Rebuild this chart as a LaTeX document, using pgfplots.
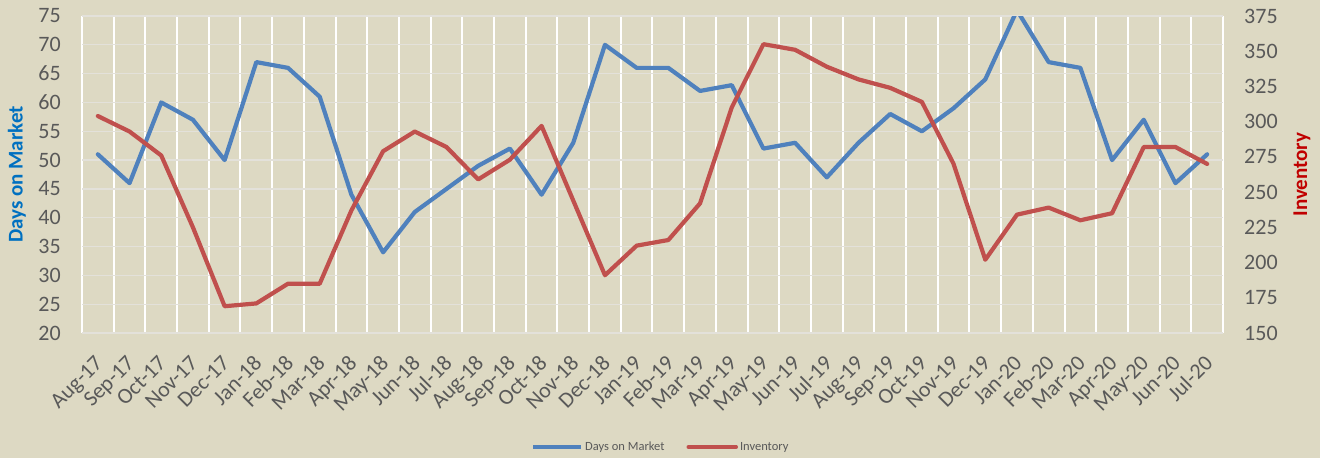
\documentclass[border=0pt]{standalone}
\usepackage{pgfplots}
\usepackage{pgfplotstable}
\pgfplotsset{compat=1.18}
\usepackage{fontspec}
\setmainfont{Carlito}
\definecolor{bg}{HTML}{DDD9C3}
\definecolor{blueline}{HTML}{4F81BD}
\definecolor{redline}{HTML}{C0504D}
\definecolor{ticktext}{HTML}{595959}
\definecolor{hgrid}{HTML}{E3E1DA}
\definecolor{labblue}{HTML}{0070C0}
\definecolor{labred}{HTML}{C00000}
\pgfplotstableread{
x dom inv
0 51 304
1 46 293
2 60 276
3 57 225
4 50 169
5 67 171
6 66 185
7 61 185
8 44 237
9 34 279
10 41 293
11 45 282
12 49 259
13 52 273
14 44 297
15 53 244
16 70 191
17 66 212
18 66 216
19 62 242
20 63 310
21 52 355
22 53 351
23 47 339
24 53 330
25 58 324
26 55 314
27 59 270
28 64 202
29 76 234
30 67 239
31 66 230
32 50 235
33 57 282
34 46 282
35 51 270
}\data
\begin{document}
\begin{tikzpicture}
\path[use as bounding box, fill=bg] (0,0) rectangle (1320pt,458pt);
\begin{axis}[
  /pgf/number format/assume math mode=true,
  at={(82pt,125pt)}, anchor=south west,
  scale only axis, width=1141pt, height=317pt,
  xmin=-0.5, xmax=35.5, ymin=20, ymax=75,
  axis y line*=left, axis x line*=bottom,
  axis line style={draw=none},
  major tick length=0pt, minor tick length=0pt,
  xtick={0,...,35},
  xticklabels={Aug-17,Sep-17,Oct-17,Nov-17,Dec-17,Jan-18,Feb-18,Mar-18,Apr-18,May-18,Jun-18,Jul-18,Aug-18,Sep-18,Oct-18,Nov-18,Dec-18,Jan-19,Feb-19,Mar-19,Apr-19,May-19,Jun-19,Jul-19,Aug-19,Sep-19,Oct-19,Nov-19,Dec-19,Jan-20,Feb-20,Mar-20,Apr-20,May-20,Jun-20,Jul-20},
  xticklabel style={xshift=-4pt, yshift=-21pt, rotate=45, anchor=north east, inner sep=0pt, font=\fontsize{22}{24}\selectfont, text=ticktext},
  minor xtick={-0.5,0.5,...,35.5},
  xminorgrids, minor grid style={white, line width=2pt},
  ytick={20,25,...,75},
  ymajorgrids, major grid style={hgrid, line width=1.3pt},
  yticklabel style={anchor=east, inner sep=0pt, xshift=-21pt, font=\fontsize{22}{24}\selectfont, text=ticktext},
  ylabel={Days on Market},
  ylabel style={at={(axis description cs:-0.057,0.5)}, anchor=center, font=\bfseries\fontsize{21}{24}\selectfont, text=labblue},
]
\addplot[blueline, line width=4.2pt, line join=round, line cap=round] table[x=x, y=dom] {\data};
\end{axis}
\begin{axis}[
  /pgf/number format/assume math mode=true,
  at={(82pt,125pt)}, anchor=south west,
  scale only axis, width=1141pt, height=317pt,
  xmin=-0.5, xmax=35.5, ymin=150, ymax=375,
  axis y line*=right, axis x line=none,
  axis line style={draw=none},
  major tick length=0pt,
  ytick={150,175,...,375},
  yticklabel style={anchor=west, inner sep=0pt, xshift=21pt, font=\fontsize{22}{24}\selectfont, text=ticktext},
  ylabel={Inventory},
  ylabel style={at={(axis description cs:1.0692,0.5)}, anchor=center, rotate=0, font=\bfseries\fontsize{21}{24}\selectfont, text=labred},
  legend columns=2,
  legend style={at={(axis description cs:0.5075,-0.3596)}, anchor=center, draw=none, fill=none, font=\fontsize{12.5}{14}\selectfont, text=ticktext, /tikz/every even column/.append style={column sep=20pt}},
  legend image code/.code={\draw[#1, line width=3.5pt] (0pt,0pt) -- (48pt,0pt);},
]
\addlegendimage{blueline}
\addlegendentry{Days on Market}
\addplot[redline, line width=4.2pt, line join=round, line cap=round] table[x=x, y=inv] {\data};
\addlegendentry{Inventory}
\end{axis}
\end{tikzpicture}
\end{document}
